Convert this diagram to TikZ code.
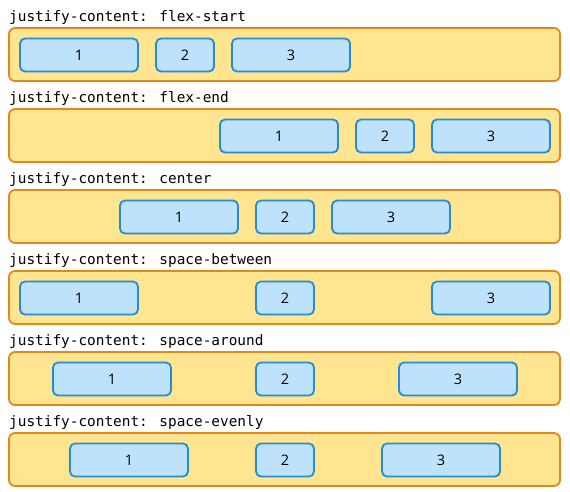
\documentclass[tikz,border=0pt]{standalone}
\usepackage{fontspec}
\setmainfont{Open Sans}
\newfontfamily\monofont{DejaVu Sans Mono}
\definecolor{contfill}{RGB}{255,229,143}
\definecolor{contdraw}{RGB}{226,136,28}
\definecolor{itemfill}{RGB}{190,226,252}
\definecolor{itemdraw}{RGB}{38,140,210}
\begin{document}
\begin{tikzpicture}[x=1pt,y=-1pt,
  container/.style={draw=contdraw,fill=contfill,line width=1.8pt,rounded corners=6pt},
  item/.style={draw=itemdraw,fill=itemfill,line width=1.8pt,rounded corners=5pt,minimum height=33pt,inner sep=0pt,font=\fontsize{14.5}{16}\selectfont},
  lbl/.style={anchor=base west,inner sep=0pt,font=\monofont\fontsize{14.4}{16}\selectfont}]
\useasboundingbox (0,0) rectangle (570,491);
\foreach \r/\name/\ax/\bx/\cx [count=\i from 0] in {
  0/flex-start/20/156/232,
  1/flex-end/220/356/432,
  2/center/120/256/332,
  3/space-between/20/256/432,
  4/space-around/53/256/399,
  5/space-evenly/70/256/382}{
  \pgfmathsetmacro{\yy}{28+81*\r}
  \node[lbl] (L\i) at (9,\yy-7) {justify-content: \name};
  \draw[container] (9,\yy) rectangle (560,\yy+53);
  \node[item,minimum width=118pt] (A\i) at (\ax+59,\yy+27) {1};
  \node[item,minimum width=58pt] (B\i) at (\bx+29,\yy+27) {2};
  \node[item,minimum width=118pt] (D\i) at (\cx+59,\yy+27) {3};
}
\end{tikzpicture}
\end{document}
